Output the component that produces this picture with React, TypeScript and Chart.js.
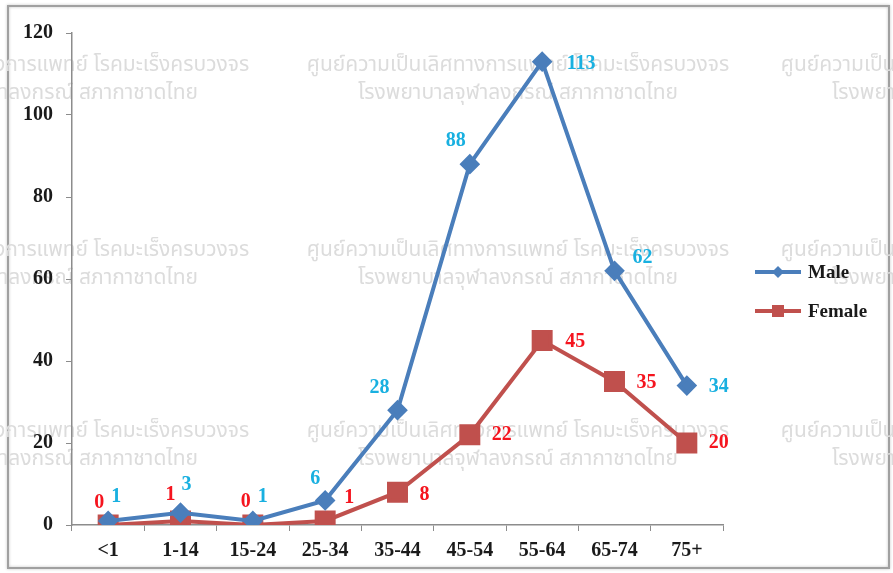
import React, { useEffect, useRef } from 'react';
import { Chart, registerables } from 'chart.js';

Chart.register(...registerables);

// ---- data ----
const categories = ['<1', '1-14', '15-24', '25-34', '35-44', '45-54', '55-64', '65-74', '75+'];
const maleValues = [1, 3, 1, 6, 28, 88, 113, 62, 34];
const femaleValues = [0, 1, 0, 1, 8, 22, 45, 35, 20];
const yTickValues = [0, 20, 40, 60, 80, 100, 120];
const seriesNames = ['Male', 'Female'];
const watermarkLines = [
  'ศูนย์ความเป็นเลิศทางการแพทย์ โรคมะเร็งครบวงจร',
  'โรงพยาบาลจุฬาลงกรณ์ สภากาชาดไทย',
];

// ---- label placement (pixel offsets from each point) ----
const maleLabelOffsets = [[8, -24], [6, -28], [10, -24], [-10, -22], [-18, -22], [-14, -23], [39, 2], [28, -13], [32, 1]];
const femaleLabelOffsets = [[-9, -22], [-10, -26], [-7, -23], [24, -23], [27, 3], [32, 0], [33, 1], [32, 1], [32, 0]];

const SERIF = "'Liberation Serif', 'Times New Roman', serif";
const BLUE = '#4A7EBB';
const RED = '#C0504D';
const MALE_LABEL = '#19B0E0';
const FEMALE_LABEL = '#F5141E';

const decorPlugin = {
  id: 'decor',
  beforeDraw(chart: any) {
    const ctx = chart.ctx;
    ctx.save();
    ctx.fillStyle = '#ffffff';
    ctx.fillRect(0, 0, chart.width, chart.height);
    // frame
    ctx.shadowColor = 'rgba(0,0,0,0.25)';
    ctx.shadowBlur = 3;
    ctx.strokeStyle = '#a0a0a0';
    ctx.lineWidth = 2;
    ctx.strokeRect(8, 6, 881, 562);
    ctx.shadowBlur = 0;
    ctx.shadowColor = 'transparent';
    // watermark
    ctx.fillStyle = '#dcdcdc';
    ctx.font = "21px 'Noto Sans Thai', 'Tahoma', 'DejaVu Sans', sans-serif";
    ctx.textAlign = 'center';
    ctx.textBaseline = 'middle';
    const cols = [38, 518, 992];
    const rows = [67, 252, 433];
    rows.forEach((ry) => {
      cols.forEach((cx) => {
        ctx.fillText(watermarkLines[0], cx, ry);
        ctx.fillText(watermarkLines[1], cx, ry + 28);
      });
    });
    ctx.restore();
  },
  afterDatasetsDraw(chart: any) {
    const ctx = chart.ctx;
    ctx.save();
    ctx.font = `bold 20px ${SERIF}`;
    ctx.textAlign = 'center';
    ctx.textBaseline = 'middle';
    const sets = [
      { idx: 0, vals: maleValues, offs: maleLabelOffsets, color: MALE_LABEL },
      { idx: 1, vals: femaleValues, offs: femaleLabelOffsets, color: FEMALE_LABEL },
    ];
    [sets[1], sets[0]].forEach((s) => {
      const meta = chart.getDatasetMeta(s.idx);
      ctx.fillStyle = s.color;
      meta.data.forEach((pt: any, i: number) => {
        const [dx, dy] = s.offs[i];
        ctx.fillText(String(s.vals[i]), pt.x + dx, pt.y + dy);
      });
    });

    // legend
    const items = [
      { name: seriesNames[0], color: BLUE, style: 'diamond', y: 272 },
      { name: seriesNames[1], color: RED, style: 'square', y: 311 },
    ];
    items.forEach((it) => {
      ctx.strokeStyle = it.color;
      ctx.lineWidth = 4;
      ctx.beginPath();
      ctx.moveTo(755, it.y);
      ctx.lineTo(801, it.y);
      ctx.stroke();
      ctx.fillStyle = it.color;
      if (it.style === 'diamond') {
        ctx.beginPath();
        ctx.moveTo(778, it.y - 6);
        ctx.lineTo(784, it.y);
        ctx.lineTo(778, it.y + 6);
        ctx.lineTo(772, it.y);
        ctx.closePath();
        ctx.fill();
      } else {
        ctx.fillRect(772, it.y - 6, 12, 12);
      }
      ctx.fillStyle = '#1a1a1a';
      ctx.font = `bold 19px ${SERIF}`;
      ctx.textAlign = 'left';
      ctx.fillText(it.name, 808, it.y + 1);
    });
    ctx.restore();
  },
};

export default function App() {
  const ref = useRef<HTMLCanvasElement | null>(null);
  useEffect(() => {
    document.body.style.margin = '0';
    const canvas = ref.current!;
    const chart = new Chart(canvas, {
      type: 'line',
      data: {
        labels: categories,
        datasets: [
          {
            label: seriesNames[0],
            data: maleValues,
            borderColor: BLUE,
            backgroundColor: BLUE,
            borderWidth: 4,
            pointStyle: 'rectRot',
            pointRadius: 7.5,
            pointHoverRadius: 7.5,
            tension: 0,
          },
          {
            label: seriesNames[1],
            data: femaleValues,
            borderColor: RED,
            backgroundColor: RED,
            borderWidth: 4,
            pointStyle: 'rect',
            pointRadius: 12,
            pointHoverRadius: 12,
            tension: 0,
          },
        ],
      },
      options: {
        responsive: false,
        animation: false,
        events: [],
        layout: { padding: { left: 0, top: 33, right: 170, bottom: 0 } },
        plugins: {
          legend: { display: false },
          tooltip: { enabled: false },
          title: { display: false },
        },
        scales: {
          x: {
            offset: true,
            grid: {
              display: true,
              drawOnChartArea: false,
              drawTicks: true,
              tickLength: 6,
              offset: true,
              color: '#8c8c8c',
            },
            border: { display: true, color: '#8c8c8c', width: 1.5 },
            ticks: {
              color: '#1a1a1a',
              font: { family: SERIF, size: 20, weight: 'bold' },
              padding: 8,
              maxRotation: 0,
              autoSkip: false,
            },
            afterFit(scale: any) {
              scale.height = 48;
            },
          },
          y: {
            min: 0,
            max: 120,
            afterBuildTicks(scale: any) {
              scale.ticks = yTickValues.map((v) => ({ value: v }));
            },
            grid: {
              display: true,
              drawOnChartArea: false,
              drawTicks: true,
              tickLength: 6,
              color: '#8c8c8c',
            },
            border: { display: true, color: '#8c8c8c', width: 1.5 },
            ticks: {
              color: '#1a1a1a',
              font: { family: SERIF, size: 20, weight: 'bold' },
              padding: 13,
            },
            afterFit(scale: any) {
              scale.width = 72;
            },
          },
        },
      },
      plugins: [decorPlugin],
    } as any);
    return () => chart.destroy();
  }, []);
  return (
    <div style={{ width: 893, height: 573, position: 'relative' }}>
      <canvas ref={ref} width={893} height={573} style={{ display: 'block' }} />
    </div>
  );
}
